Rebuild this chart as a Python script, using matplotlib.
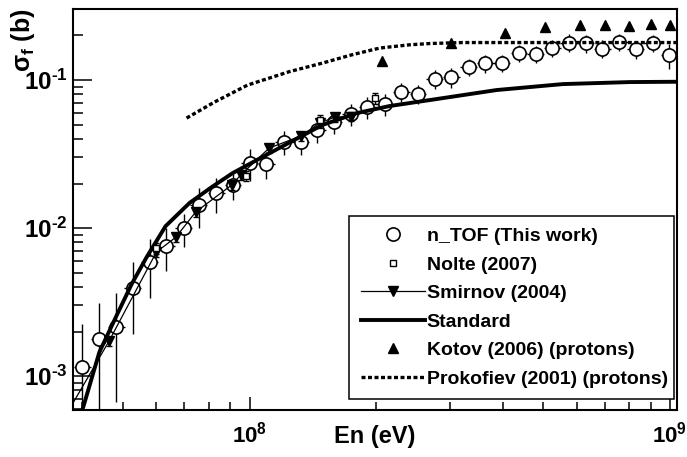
import numpy as np
import matplotlib
matplotlib.use("Agg")
import matplotlib.pyplot as plt
from matplotlib.lines import Line2D
from matplotlib.ticker import LogLocator, FuncFormatter, NullFormatter

plt.rcParams['font.family'] = ['Liberation Sans', 'DejaVu Sans']
plt.rcParams['font.weight'] = 'bold'
plt.rcParams['mathtext.fontset'] = 'custom'
plt.rcParams['mathtext.rm'] = 'Liberation Sans:bold'
plt.rcParams['mathtext.it'] = 'Liberation Sans:bold'
plt.rcParams['mathtext.bf'] = 'Liberation Sans:bold'
plt.rcParams['axes.unicode_minus'] = False

# n_TOF (This work), energies in MeV
ntof_E = [40.0, 43.8, 48.2, 52.7, 57.8, 63.4, 69.7, 75.7, 83.3, 91.3,
          100.0, 109.6, 120.5, 132.3, 144.9, 158.5, 174.0, 190.6, 209.6, 229.7,
          251.6, 275.8, 302.1, 332.3, 364.1, 398.1, 437.7, 479.2, 525.1, 574.8,
          630.2, 690.9, 757.5, 829.8, 909.9, 997.3]
ntof_xs = [1.145e-3, 1.77e-3, 2.153e-3, 3.914e-3, 5.92e-3, 7.56e-3, 9.95e-3, 1.43e-2, 1.732e-2, 1.952e-2,
           2.762e-2, 2.707e-2, 3.83e-2, 3.83e-2, 4.595e-2, 5.2e-2, 5.89e-2, 6.6e-2, 6.85e-2, 8.34e-2,
           8.04e-2, 0.1023, 0.1043, 0.123, 0.1297, 0.1309, 0.1515, 0.151, 0.1645, 0.1792,
           0.177, 0.1632, 0.1811, 0.1612, 0.1784, 0.1475]
ntof_err = [1.10e-3, 1.36e-3, 1.48e-3, 2.0e-3, 2.55e-3, 2.4e-3, 2.5e-3, 4.3e-3, 4.6e-3, 4.0e-3,
            6.7e-3, 5.5e-3, 7.2e-3, 7.2e-3, 8.6e-3, 8.7e-3, 9.9e-3, 1.11e-2, 1.15e-2, 1.25e-2,
            1.2e-2, 1.53e-2, 1.56e-2, 1.64e-2, 1.73e-2, 1.74e-2, 2.0e-2, 2.0e-2, 2.2e-2, 2.4e-2,
            2.4e-2, 2.2e-2, 2.4e-2, 2.2e-2, 2.4e-2, 2.8e-2]
bin_half_dec = 0.02  # half bin width in decades (25 bins / decade)

# Nolte (2007)
nolte_E = [60.0, 97.8, 146.8, 198.5]
nolte_xs = [7.33e-3, 2.245e-2, 5.37e-2, 7.55e-2]
nolte_err = [6e-4, 1.8e-3, 4.5e-3, 6.5e-3]

# Smirnov (2004)
smir_E = [35.3, 46.3, 60.0, 66.8, 74.4, 90.6, 95.2, 111.3, 132.3, 146.8, 159.4, 174.0]
smir_xs = [4.59e-4, 1.724e-3, 6.88e-3, 8.69e-3, 1.283e-2, 1.952e-2, 2.281e-2, 3.47e-2, 4.18e-2, 5.12e-2, 5.62e-2, 5.67e-2]
smir_err = [3e-5, 1.2e-4, 5e-4, 6e-4, 9e-4, 1.4e-3, 1.6e-3, 2.5e-3, 3.0e-3, 3.6e-3, 4.0e-3, 4.0e-3]

# Standard
std_E = [37.9, 40.0, 43.9, 48.3, 52.4, 56.9, 63.1, 72.0, 81.2, 91.1,
         104.0, 125.0, 149.0, 180.0, 215.0, 268.0, 387.0, 556.0, 803.0, 1045.0]
std_xs = [3.58e-4, 5.89e-4, 1.45e-3, 2.58e-3, 4.18e-3, 6.37e-3, 1.03e-2, 1.48e-2, 1.89e-2, 2.35e-2,
          2.88e-2, 3.81e-2, 4.97e-2, 5.98e-2, 6.67e-2, 7.32e-2, 8.56e-2, 9.39e-2, 9.69e-2, 9.74e-2]

# Kotov (2006) (protons)
kotov_E = [207.0, 302.1, 404.6, 504.0, 610.5, 700.0, 800.0, 899.5, 1000.0]
kotov_xs = [0.1344, 0.1778, 0.2068, 0.2292, 0.2352, 0.2352, 0.2316, 0.239, 0.2352]

# Prokofiev (2001) (protons)
prok_E = [70.8, 82.5, 98.9, 124.5, 149.2, 175.0, 204.0, 240.0, 268.3, 321.5, 1039.0]
prok_xs = [5.535e-2, 7.10e-2, 9.25e-2, 0.1141, 0.1303, 0.148, 0.1645, 0.173, 0.1765, 0.1792, 0.1792]

MeV = 1e6

fig = plt.figure(figsize=(6.87, 4.57), dpi=100)
ax = fig.add_axes([73 / 687, 47 / 457, 604 / 687, 401 / 457])

E = np.array(ntof_E) * MeV
xlo = E * (1 - 10 ** -bin_half_dec)
xhi = E * (10 ** bin_half_dec - 1)
ax.errorbar(E, ntof_xs, xerr=[xlo, xhi], yerr=ntof_err, fmt='o', ms=9.5,
            mfc='white', mec='black', mew=1.2, ecolor='black', elinewidth=1.0,
            capsize=0, zorder=3)

ax.plot(np.array(std_E) * MeV, std_xs, color='black', lw=2.8, zorder=4)
ax.plot(np.array(prok_E) * MeV, prok_xs, color='black', lw=2.4,
        ls=(0, (1.2, 0.75)), zorder=4)

ax.plot(np.array(smir_E) * MeV, smir_xs, color='black', lw=0.9, zorder=5)
ax.errorbar(np.array(smir_E) * MeV, smir_xs, yerr=smir_err, fmt='v', ms=7.5,
            color='black', elinewidth=1.0, capsize=2.5, zorder=6)
ax.errorbar(np.array(nolte_E) * MeV, nolte_xs, yerr=nolte_err, fmt='s', ms=4,
            mfc='white', mec='black', mew=1.0, ecolor='black', elinewidth=1.0,
            capsize=2.5, zorder=6)
ax.plot(np.array(kotov_E) * MeV, kotov_xs, '^', ms=6.5, color='black', zorder=6)

ax.set_xscale('log')
ax.set_yscale('log')
ax.set_xlim(3.8e7, 1.04e9)
ax.set_ylim(5.9e-4, 0.302)

fmt = FuncFormatter(lambda v, p: r'$10^{\text{%d}}$' % round(np.log10(v)))
for axis in (ax.xaxis, ax.yaxis):
    axis.set_major_locator(LogLocator(base=10))
    axis.set_minor_locator(LogLocator(base=10, subs=np.arange(2, 10)))
    axis.set_major_formatter(fmt)
    axis.set_minor_formatter(NullFormatter())

for s in ax.spines.values():
    s.set_linewidth(1.5)
ax.tick_params(axis='both', which='both', direction='in', top=False, right=False,
               width=1.1)
ax.tick_params(axis='y', which='major', length=14, pad=4, labelsize=17.5)
ax.tick_params(axis='y', which='minor', length=7.5)
ax.tick_params(axis='x', which='major', length=9.5, pad=8, labelsize=16)
ax.tick_params(axis='x', which='minor', length=5.5)

fig.text(375 / 687, 1 - 437 / 457, 'En (eV)', ha='center', va='center',
         fontsize=17, fontweight='bold')
fig.text(23 / 687, 1 - 8 / 457, r'σ$_{f}$ (b)', rotation=90, ha='center', va='top',
         fontsize=18, fontweight='bold')

handles = [
    Line2D([], [], ls='none', marker='o', ms=9.5, mfc='white', mec='black', mew=1.2),
    Line2D([], [], ls='none', marker='s', ms=4, mfc='white', mec='black', mew=1.0),
    Line2D([], [], color='black', lw=0.9, marker='v', ms=7.5),
    Line2D([], [], color='black', lw=2.8),
    Line2D([], [], ls='none', marker='^', ms=6.5, color='black'),
    Line2D([], [], color='black', lw=2.4, ls=(0, (1.2, 0.75))),
]
labels = ['n_TOF (This work)', 'Nolte (2007)', 'Smirnov (2004)', 'Standard',
          'Kotov (2006) (protons)', 'Prokofiev (2001) (protons)']
leg = ax.legend(handles, labels, loc='lower left', mode='expand',
                bbox_to_anchor=(0.457, 0.027, 0.538, 0.464), borderaxespad=0,
                prop={'size': 14, 'weight': 'bold'}, handlelength=3.3,
                handletextpad=0.1, labelspacing=0.56, borderpad=0.6,
                numpoints=1, fancybox=False, framealpha=1, edgecolor='black')
leg.get_frame().set_linewidth(1.1)

fig.savefig('out.png', dpi=100)
